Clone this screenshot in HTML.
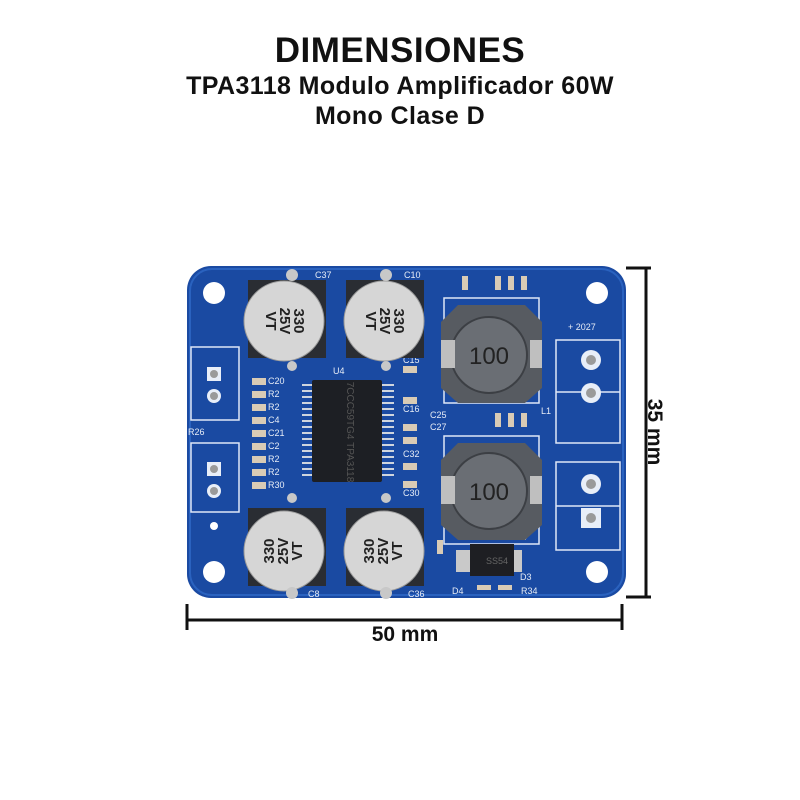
<!DOCTYPE html>
<html><head><style>
html,body{margin:0;padding:0;background:#fff;width:800px;height:800px;overflow:hidden}
svg{display:block}
</style></head><body>
<svg width="800" height="800" viewBox="0 0 800 800" font-family="Liberation Sans, sans-serif">
<rect width="800" height="800" fill="#fff"/>
<text x="400" y="62" text-anchor="middle" font-size="35" font-weight="bold" fill="#111" letter-spacing="0.5">DIMENSIONES</text>
<text x="400" y="94" text-anchor="middle" font-size="25" font-weight="bold" fill="#111" letter-spacing="0.4">TPA3118 Modulo Amplificador 60W</text>
<text x="400" y="124" text-anchor="middle" font-size="25" font-weight="bold" fill="#111" letter-spacing="0.4">Mono Clase D</text>

<rect x="187" y="266" width="439" height="332" rx="24" fill="#1a4aa2"/>
<rect x="190" y="269" width="433" height="326" rx="22" fill="none" stroke="#2a62bf" stroke-width="2"/>
<g fill="#fff">
<circle cx="214" cy="293" r="11"/><circle cx="597" cy="293" r="11"/>
<circle cx="214" cy="572" r="11"/><circle cx="597" cy="572" r="11"/>
<circle cx="214" cy="526" r="4"/>
</g>
<g fill="none" stroke="#dfe8f7" stroke-width="1.5">
<rect x="191" y="347" width="48" height="73"/>
<rect x="191" y="443" width="48" height="69"/>
<rect x="556" y="340" width="64" height="103"/>
<line x1="556" y1="392" x2="620" y2="392"/>
<rect x="556" y="462" width="64" height="88"/>
<line x1="556" y1="506" x2="620" y2="506"/>
<rect x="444" y="298" width="95" height="105"/>
<rect x="444" y="436" width="95" height="108"/>
</g>
<g fill="#e8eef8"><rect x="207" y="367" width="14" height="14"/><circle cx="214" cy="396" r="7"/>
<rect x="207" y="462" width="14" height="14"/><circle cx="214" cy="491" r="7"/>
<circle cx="591" cy="360" r="10"/><circle cx="591" cy="393" r="10"/>
<circle cx="591" cy="484" r="10"/><rect x="581" y="508" width="20" height="20"/></g>
<g fill="#9a9a9a"><circle cx="591" cy="360" r="5"/><circle cx="591" cy="393" r="5"/><circle cx="591" cy="484" r="5"/><circle cx="591" cy="518" r="5"/>
<circle cx="214" cy="374" r="4"/><circle cx="214" cy="396" r="4"/><circle cx="214" cy="469" r="4"/><circle cx="214" cy="491" r="4"/></g>

<g fill="#cfd5de">
<rect x="302" y="384" width="92" height="2"/><rect x="302" y="390" width="92" height="2"/><rect x="302" y="396" width="92" height="2"/><rect x="302" y="402" width="92" height="2"/><rect x="302" y="408" width="92" height="2"/><rect x="302" y="414" width="92" height="2"/><rect x="302" y="420" width="92" height="2"/><rect x="302" y="426" width="92" height="2"/><rect x="302" y="432" width="92" height="2"/><rect x="302" y="438" width="92" height="2"/><rect x="302" y="444" width="92" height="2"/><rect x="302" y="450" width="92" height="2"/><rect x="302" y="456" width="92" height="2"/><rect x="302" y="462" width="92" height="2"/><rect x="302" y="468" width="92" height="2"/><rect x="302" y="474" width="92" height="2"/>
</g>
<rect x="312" y="380" width="70" height="102" rx="2" fill="#1d1f24"/>
<text x="347" y="432" font-size="10" fill="#555" text-anchor="middle" transform="rotate(90 347 432)">7CCC59TG4 TPA3118</text>

<g fill="#d9cbb5">
<rect x="252" y="378" width="14" height="7"/><rect x="252" y="391" width="14" height="7"/><rect x="252" y="404" width="14" height="7"/><rect x="252" y="417" width="14" height="7"/><rect x="252" y="430" width="14" height="7"/><rect x="252" y="443" width="14" height="7"/><rect x="252" y="456" width="14" height="7"/><rect x="252" y="469" width="14" height="7"/><rect x="252" y="482" width="14" height="7"/>
<rect x="403" y="366" width="14" height="7"/><rect x="403" y="397" width="14" height="7"/><rect x="403" y="424" width="14" height="7"/><rect x="403" y="437" width="14" height="7"/><rect x="403" y="463" width="14" height="7"/><rect x="403" y="481" width="14" height="7"/>
<rect x="462" y="276" width="6" height="14"/><rect x="495" y="276" width="6" height="14"/><rect x="508" y="276" width="6" height="14"/><rect x="521" y="276" width="6" height="14"/>
<rect x="495" y="413" width="6" height="14"/><rect x="508" y="413" width="6" height="14"/><rect x="521" y="413" width="6" height="14"/>
<rect x="437" y="540" width="6" height="14"/><rect x="477" y="585" width="14" height="5"/><rect x="498" y="585" width="14" height="5"/>
</g>
<g font-size="9" fill="#e6ecf6">
<text x="268" y="384">C20</text><text x="268" y="397">R2</text><text x="268" y="410">R2</text><text x="268" y="423">C4</text><text x="268" y="436">C21</text><text x="268" y="449">C2</text><text x="268" y="462">R2</text><text x="268" y="475">R2</text><text x="268" y="488">R30</text>
<text x="188" y="435">R26</text><text x="333" y="374">U4</text><text x="403" y="363">C15</text><text x="403" y="412">C16</text><text x="403" y="457">C32</text><text x="403" y="496">C30</text>
<text x="430" y="418">C25</text><text x="430" y="430">C27</text><text x="315" y="278">C37</text><text x="404" y="278">C10</text><text x="308" y="597">C8</text><text x="408" y="597">C36</text>
<text x="452" y="594">D4</text><text x="521" y="594">R34</text><text x="520" y="580">D3</text><text x="517" y="540">L4</text><text x="541" y="414">L1</text>
<text x="568" y="330">+ 2027</text>
</g>

<g>
<polygon points="458,305 525,305 542,322 542,388 525,403 458,403 441,388 441,322" fill="#575b61"/>
<circle cx="489" cy="355" r="38" fill="#6a6e74" stroke="#3c3f44" stroke-width="2"/>
<text x="489" y="364" font-size="24" text-anchor="middle" fill="#222">100</text>
<rect x="441" y="340" width="14" height="28" fill="#bfbfbf"/><rect x="530" y="340" width="12" height="28" fill="#bfbfbf"/>
<polygon points="458,443 525,443 542,460 542,525 525,540 458,540 441,525 441,460" fill="#575b61"/>
<circle cx="489" cy="491" r="38" fill="#6a6e74" stroke="#3c3f44" stroke-width="2"/>
<text x="489" y="500" font-size="24" text-anchor="middle" fill="#222">100</text>
<rect x="441" y="476" width="14" height="28" fill="#bfbfbf"/><rect x="530" y="476" width="12" height="28" fill="#bfbfbf"/>
</g>
<rect x="456" y="550" width="66" height="22" fill="#c9c9c9"/>
<rect x="470" y="544" width="44" height="32" fill="#1e1f23"/>
<text x="497" y="564" font-size="9" fill="#666" text-anchor="middle">SS54</text>

<g>
<rect x="248" y="280" width="78" height="78" fill="#2a2d33"/>
<circle cx="284" cy="321" r="40" fill="#d6d6d6" stroke="#9a9a9a"/>
<text x="284" y="321" font-size="15" font-weight="bold" fill="#222" text-anchor="middle" transform="rotate(90 284 321)"><tspan x="284" dy="-10">330</tspan><tspan x="284" dy="14">25V</tspan><tspan x="284" dy="14">VT</tspan></text>
<rect x="346" y="280" width="78" height="78" fill="#2a2d33"/>
<circle cx="384" cy="321" r="40" fill="#d6d6d6" stroke="#9a9a9a"/>
<text x="384" y="321" font-size="15" font-weight="bold" fill="#222" text-anchor="middle" transform="rotate(90 384 321)"><tspan x="384" dy="-10">330</tspan><tspan x="384" dy="14">25V</tspan><tspan x="384" dy="14">VT</tspan></text>
<rect x="248" y="508" width="78" height="78" fill="#2a2d33"/>
<circle cx="284" cy="551" r="40" fill="#d6d6d6" stroke="#9a9a9a"/>
<text x="284" y="551" font-size="15" font-weight="bold" fill="#222" text-anchor="middle" transform="rotate(-90 284 551)"><tspan x="284" dy="-10">330</tspan><tspan x="284" dy="14">25V</tspan><tspan x="284" dy="14">VT</tspan></text>
<rect x="346" y="508" width="78" height="78" fill="#2a2d33"/>
<circle cx="384" cy="551" r="40" fill="#d6d6d6" stroke="#9a9a9a"/>
<text x="384" y="551" font-size="15" font-weight="bold" fill="#222" text-anchor="middle" transform="rotate(-90 384 551)"><tspan x="384" dy="-10">330</tspan><tspan x="384" dy="14">25V</tspan><tspan x="384" dy="14">VT</tspan></text>
<g fill="#c8c8c8"><circle cx="292" cy="275" r="6"/><circle cx="386" cy="275" r="6"/><circle cx="292" cy="366" r="5"/><circle cx="386" cy="366" r="5"/><circle cx="292" cy="498" r="5"/><circle cx="386" cy="498" r="5"/><circle cx="292" cy="593" r="6"/><circle cx="386" cy="593" r="6"/></g>
</g>

<g stroke="#111" stroke-width="3">
<line x1="646" y1="268" x2="646" y2="597"/>
<line x1="626" y1="268" x2="651" y2="268"/>
<line x1="626" y1="597" x2="651" y2="597"/>
<line x1="187" y1="620" x2="622" y2="620"/>
<line x1="187" y1="604" x2="187" y2="630"/>
<line x1="622" y1="604" x2="622" y2="630"/>
</g>
<text x="405" y="641" font-size="21" font-weight="bold" text-anchor="middle" fill="#111">50 mm</text>
<text x="0" y="0" font-size="21" font-weight="bold" text-anchor="middle" fill="#111" transform="translate(648 432) rotate(90)">35 mm</text>
</svg>
</body></html>
